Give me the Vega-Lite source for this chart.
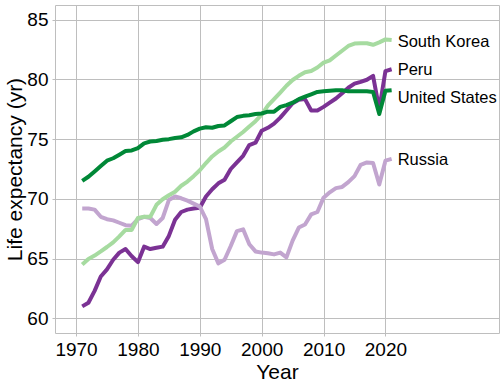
{
  "$schema": "https://vega.github.io/schema/vega-lite/v6.json",
  "width": 444,
  "height": 328,
  "autosize": "none",
  "padding": {"left": 55, "top": 5, "right": 5, "bottom": 54},
  "background": "white",
  "config": {
    "font": "Liberation Sans",
    "view": {"stroke": "#bebebe", "strokeWidth": 1},
    "axis": {
      "domain": false,
      "grid": true,
      "gridColor": "#bebebe",
      "gridWidth": 1,
      "tickColor": "#bebebe",
      "tickSize": 3,
      "tickWidth": 1,
      "labelColor": "#000000",
      "labelFontSize": 19,
      "labelPadding": 4,
      "titleColor": "#000000",
      "titleFontSize": 21,
      "titleFontWeight": "normal"
    }
  },
  "datasets": {
    "series": [
      {"country":"Peru","year":1971,"le":61.0},{"country":"Peru","year":1972,"le":61.3},{"country":"Peru","year":1973,"le":62.3},{"country":"Peru","year":1974,"le":63.5},{"country":"Peru","year":1975,"le":64.1},{"country":"Peru","year":1976,"le":64.9},{"country":"Peru","year":1977,"le":65.5},{"country":"Peru","year":1978,"le":65.8},{"country":"Peru","year":1979,"le":65.2},{"country":"Peru","year":1980,"le":64.7},
      {"country":"Peru","year":1981,"le":66.0},{"country":"Peru","year":1982,"le":65.8},{"country":"Peru","year":1983,"le":65.9},{"country":"Peru","year":1984,"le":66.0},{"country":"Peru","year":1985,"le":66.9},{"country":"Peru","year":1986,"le":68.25},{"country":"Peru","year":1987,"le":68.9},{"country":"Peru","year":1988,"le":69.1},{"country":"Peru","year":1989,"le":69.2},{"country":"Peru","year":1990,"le":69.25},
      {"country":"Peru","year":1991,"le":70.2},{"country":"Peru","year":1992,"le":70.8},{"country":"Peru","year":1993,"le":71.3},{"country":"Peru","year":1994,"le":71.6},{"country":"Peru","year":1995,"le":72.5},{"country":"Peru","year":1996,"le":73.05},{"country":"Peru","year":1997,"le":73.6},{"country":"Peru","year":1998,"le":74.5},{"country":"Peru","year":1999,"le":74.7},{"country":"Peru","year":2000,"le":75.7},
      {"country":"Peru","year":2001,"le":75.95},{"country":"Peru","year":2002,"le":76.3},{"country":"Peru","year":2003,"le":76.8},{"country":"Peru","year":2004,"le":77.4},{"country":"Peru","year":2005,"le":78.0},{"country":"Peru","year":2006,"le":78.3},{"country":"Peru","year":2007,"le":78.35},{"country":"Peru","year":2008,"le":77.4},{"country":"Peru","year":2009,"le":77.4},{"country":"Peru","year":2010,"le":77.7},
      {"country":"Peru","year":2011,"le":78.05},{"country":"Peru","year":2012,"le":78.4},{"country":"Peru","year":2013,"le":78.85},{"country":"Peru","year":2014,"le":79.3},{"country":"Peru","year":2015,"le":79.65},{"country":"Peru","year":2016,"le":79.8},{"country":"Peru","year":2017,"le":79.97},{"country":"Peru","year":2018,"le":80.3},{"country":"Peru","year":2019,"le":77.5},{"country":"Peru","year":2020,"le":80.7},{"country":"Peru","year":2021,"le":80.85},

      {"country":"Russia","year":1971,"le":69.2},{"country":"Russia","year":1972,"le":69.2},{"country":"Russia","year":1973,"le":69.1},{"country":"Russia","year":1974,"le":68.5},{"country":"Russia","year":1975,"le":68.3},{"country":"Russia","year":1976,"le":68.2},{"country":"Russia","year":1977,"le":68.0},{"country":"Russia","year":1978,"le":67.8},{"country":"Russia","year":1979,"le":67.75},{"country":"Russia","year":1980,"le":68.3},
      {"country":"Russia","year":1981,"le":68.5},{"country":"Russia","year":1982,"le":68.4},{"country":"Russia","year":1983,"le":67.9},{"country":"Russia","year":1984,"le":68.4},{"country":"Russia","year":1985,"le":69.9},{"country":"Russia","year":1986,"le":70.2},{"country":"Russia","year":1987,"le":70.05},{"country":"Russia","year":1988,"le":69.85},{"country":"Russia","year":1989,"le":69.6},{"country":"Russia","year":1990,"le":69.35},
      {"country":"Russia","year":1991,"le":68.3},{"country":"Russia","year":1992,"le":65.8},{"country":"Russia","year":1993,"le":64.6},{"country":"Russia","year":1994,"le":64.9},{"country":"Russia","year":1995,"le":66.05},{"country":"Russia","year":1996,"le":67.3},{"country":"Russia","year":1997,"le":67.45},{"country":"Russia","year":1998,"le":66.2},{"country":"Russia","year":1999,"le":65.6},{"country":"Russia","year":2000,"le":65.5},
      {"country":"Russia","year":2001,"le":65.45},{"country":"Russia","year":2002,"le":65.35},{"country":"Russia","year":2003,"le":65.5},{"country":"Russia","year":2004,"le":65.1},{"country":"Russia","year":2005,"le":66.5},{"country":"Russia","year":2006,"le":67.6},{"country":"Russia","year":2007,"le":67.85},{"country":"Russia","year":2008,"le":68.7},{"country":"Russia","year":2009,"le":68.9},{"country":"Russia","year":2010,"le":70.1},
      {"country":"Russia","year":2011,"le":70.55},{"country":"Russia","year":2012,"le":70.9},{"country":"Russia","year":2013,"le":71.0},{"country":"Russia","year":2014,"le":71.4},{"country":"Russia","year":2015,"le":71.9},{"country":"Russia","year":2016,"le":72.85},{"country":"Russia","year":2017,"le":73.05},{"country":"Russia","year":2018,"le":73.0},{"country":"Russia","year":2019,"le":71.2},{"country":"Russia","year":2020,"le":73.2},{"country":"Russia","year":2021,"le":73.35},

      {"country":"South Korea","year":1971,"le":64.5},{"country":"South Korea","year":1972,"le":64.97},{"country":"South Korea","year":1973,"le":65.25},{"country":"South Korea","year":1974,"le":65.6},{"country":"South Korea","year":1975,"le":65.97},{"country":"South Korea","year":1976,"le":66.36},{"country":"South Korea","year":1977,"le":66.86},{"country":"South Korea","year":1978,"le":67.4},{"country":"South Korea","year":1979,"le":67.4},{"country":"South Korea","year":1980,"le":68.4},
      {"country":"South Korea","year":1981,"le":68.5},{"country":"South Korea","year":1982,"le":68.5},{"country":"South Korea","year":1983,"le":69.5},{"country":"South Korea","year":1984,"le":69.97},{"country":"South Korea","year":1985,"le":70.3},{"country":"South Korea","year":1986,"le":70.6},{"country":"South Korea","year":1987,"le":71.1},{"country":"South Korea","year":1988,"le":71.45},{"country":"South Korea","year":1989,"le":71.9},{"country":"South Korea","year":1990,"le":72.4},
      {"country":"South Korea","year":1991,"le":73.0},{"country":"South Korea","year":1992,"le":73.55},{"country":"South Korea","year":1993,"le":73.97},{"country":"South Korea","year":1994,"le":74.3},{"country":"South Korea","year":1995,"le":74.8},{"country":"South Korea","year":1996,"le":75.2},{"country":"South Korea","year":1997,"le":75.6},{"country":"South Korea","year":1998,"le":76.05},{"country":"South Korea","year":1999,"le":76.5},{"country":"South Korea","year":2000,"le":77.05},
      {"country":"South Korea","year":2001,"le":77.8},{"country":"South Korea","year":2002,"le":78.35},{"country":"South Korea","year":2003,"le":78.9},{"country":"South Korea","year":2004,"le":79.47},{"country":"South Korea","year":2005,"le":79.95},{"country":"South Korea","year":2006,"le":80.3},{"country":"South Korea","year":2007,"le":80.6},{"country":"South Korea","year":2008,"le":80.7},{"country":"South Korea","year":2009,"le":81.0},{"country":"South Korea","year":2010,"le":81.4},
      {"country":"South Korea","year":2011,"le":81.6},{"country":"South Korea","year":2012,"le":82.0},{"country":"South Korea","year":2013,"le":82.4},{"country":"South Korea","year":2014,"le":82.8},{"country":"South Korea","year":2015,"le":83.0},{"country":"South Korea","year":2016,"le":83.03},{"country":"South Korea","year":2017,"le":83.03},{"country":"South Korea","year":2018,"le":82.9},{"country":"South Korea","year":2019,"le":83.1},{"country":"South Korea","year":2020,"le":83.35},{"country":"South Korea","year":2021,"le":83.3},

      {"country":"United States","year":1971,"le":71.5},{"country":"United States","year":1972,"le":71.85},{"country":"United States","year":1973,"le":72.3},{"country":"United States","year":1974,"le":72.75},{"country":"United States","year":1975,"le":73.2},{"country":"United States","year":1976,"le":73.4},{"country":"United States","year":1977,"le":73.7},{"country":"United States","year":1978,"le":74.0},{"country":"United States","year":1979,"le":74.05},{"country":"United States","year":1980,"le":74.25},
      {"country":"United States","year":1981,"le":74.65},{"country":"United States","year":1982,"le":74.8},{"country":"United States","year":1983,"le":74.85},{"country":"United States","year":1984,"le":74.95},{"country":"United States","year":1985,"le":75.0},{"country":"United States","year":1986,"le":75.1},{"country":"United States","year":1987,"le":75.15},{"country":"United States","year":1988,"le":75.35},{"country":"United States","year":1989,"le":75.65},{"country":"United States","year":1990,"le":75.88},
      {"country":"United States","year":1991,"le":76.0},{"country":"United States","year":1992,"le":75.95},{"country":"United States","year":1993,"le":76.1},{"country":"United States","year":1994,"le":76.15},{"country":"United States","year":1995,"le":76.5},{"country":"United States","year":1996,"le":76.85},{"country":"United States","year":1997,"le":76.95},{"country":"United States","year":1998,"le":77.0},{"country":"United States","year":1999,"le":77.1},{"country":"United States","year":2000,"le":77.15},
      {"country":"United States","year":2001,"le":77.3},{"country":"United States","year":2002,"le":77.3},{"country":"United States","year":2003,"le":77.7},{"country":"United States","year":2004,"le":77.85},{"country":"United States","year":2005,"le":78.05},{"country":"United States","year":2006,"le":78.35},{"country":"United States","year":2007,"le":78.55},{"country":"United States","year":2008,"le":78.75},{"country":"United States","year":2009,"le":78.95},{"country":"United States","year":2010,"le":79.0},
      {"country":"United States","year":2011,"le":79.05},{"country":"United States","year":2012,"le":79.1},{"country":"United States","year":2013,"le":79.1},{"country":"United States","year":2014,"le":79.0},{"country":"United States","year":2015,"le":79.0},{"country":"United States","year":2016,"le":79.0},{"country":"United States","year":2017,"le":79.0},{"country":"United States","year":2018,"le":78.95},{"country":"United States","year":2019,"le":77.1},{"country":"United States","year":2020,"le":79.05},{"country":"United States","year":2021,"le":79.1}
    ],
    "labels": [
      {"country":"South Korea","year":2021,"le":83.1},
      {"country":"Peru","year":2021,"le":80.8},
      {"country":"United States","year":2021,"le":78.47},
      {"country":"Russia","year":2021,"le":73.26}
    ]
  },
  "layer": [
    {
      "data": {"name": "series"},
      "mark": {"type": "line", "strokeWidth": 4, "strokeJoin": "round", "strokeCap": "butt"},
      "encoding": {
        "x": {
          "field": "year", "type": "quantitative",
          "scale": {"domain": [1966.6, 2038.35], "nice": false, "zero": false},
          "axis": {"title": "Year", "values": [1970, 1980, 1990, 2000, 2010, 2020], "format": "d", "titlePadding": 2}
        },
        "y": {
          "field": "le", "type": "quantitative",
          "scale": {"domain": [58.77, 86.23], "nice": false, "zero": false},
          "axis": {"title": "Life expectancy (yr)", "values": [60, 65, 70, 75, 80, 85], "titlePadding": 1}
        },
        "color": {
          "field": "country", "type": "nominal",
          "scale": {"domain": ["Peru", "Russia", "South Korea", "United States"], "range": ["#7b3294", "#c2a5cf", "#a6dba0", "#008837"]},
          "legend": null
        }
      }
    },
    {
      "data": {"name": "labels"},
      "mark": {"type": "text", "align": "left", "baseline": "middle", "dx": 6, "fontSize": 16.5, "color": "#000000"},
      "encoding": {
        "x": {"field": "year", "type": "quantitative"},
        "y": {"field": "le", "type": "quantitative"},
        "text": {"field": "country"}
      }
    }
  ]
}
